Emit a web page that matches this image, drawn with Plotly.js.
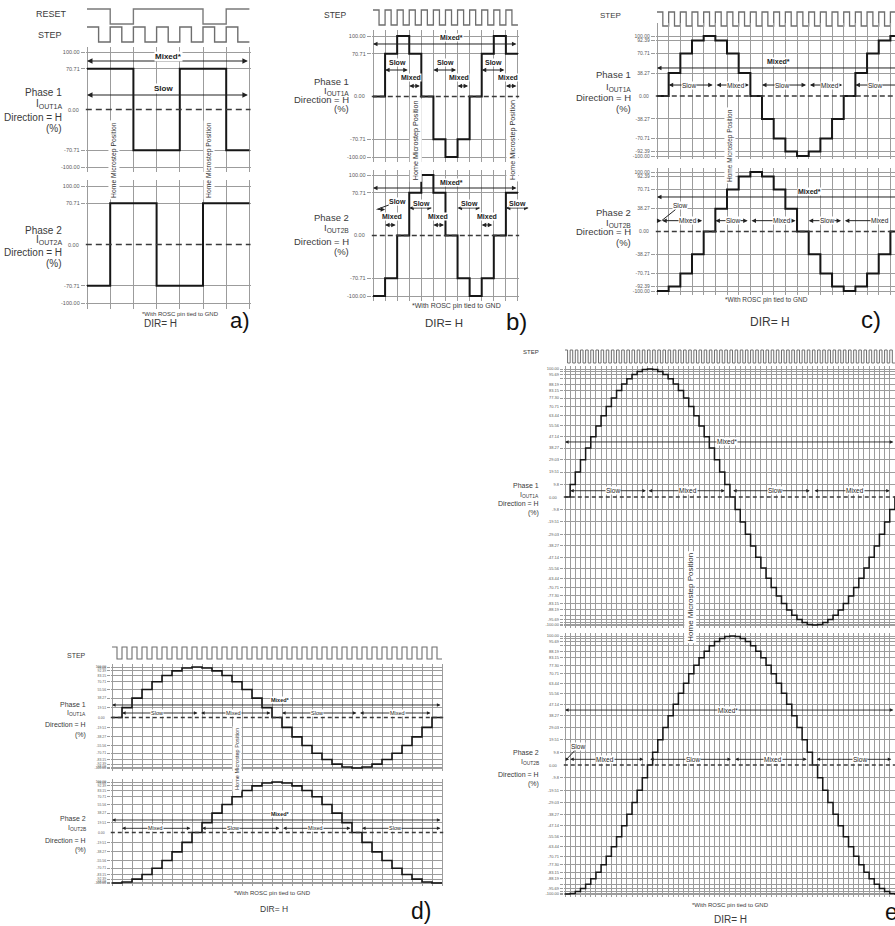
<!DOCTYPE html>
<html><head><meta charset="utf-8">
<script src="https://cdn.plot.ly/plotly-3.0.1.min.js"></script>
<style>html,body{margin:0;padding:0;background:#fff;overflow:hidden}#chart{width:895px;height:926px}</style>
</head><body><div id="chart"></div>
<script>
// ================= DATA =================
// a) full step
const stepA   = [1,0,1,0,1,0,1,0,1,0,1,0,1,0];
const resetA  = [1,0,1,1,1,0,1];
const phase1A = [70.71,70.71,-70.71,-70.71,70.71,70.71,-70.71];
const phase2A = [-70.71,70.71,70.71,-70.71,-70.71,70.71,70.71];
const ticksAB    = [100,70.71,0,-70.71,-100];
const tickTextAB = ['100.00','70.71','0.00','-70.71','-100.00'];

// b) half step
const stepB = [1,0,1,0,1,0,1,0, 1,0,1,0,1,0,1,0, 1,0,1,0,1,0,1,0];
const phase1B = [0,70.71,100,70.71,0,-70.71,-100,-70.71,0,70.71,100,70.71];
const phase2B = [-100,-70.71,0,70.71,100,70.71,0,-70.71,-100,-70.71,0,70.71];

// c) quarter step
const stepC = [1,0,1,0,1,0,1,0, 1,0,1,0,1,0,1,0, 1,0,1,0,1,0,1,0, 1,0,1,0,1,0,1,0, 1,0,1,0,1,0,1,0, 1,0];
const phase1C = [0,38.27,70.71,92.39,100,92.39,70.71,38.27,0,-38.27,-70.71,-92.39,-100,-92.39,-70.71,-38.27,0,38.27,70.71,92.39,100];
const phase2C = [-100,-92.39,-70.71,-38.27,0,38.27,70.71,92.39,100,92.39,70.71,38.27,0,-38.27,-70.71,-92.39,-100,-92.39,-70.71,-38.27,0];
const ticksC    = [100,92.39,70.71,38.27,0,-38.27,-70.71,-92.39,-100];
const tickTextC = ['100.00','92.39','70.71','38.27','0.00','-38.27','-70.71','-92.39','-100.00'];

// d) 1/8 step
const stepD = [1,0,1,0,1,0,1,0, 1,0,1,0,1,0,1,0, 1,0,1,0,1,0,1,0, 1,0,1,0,1,0,1,0,
               1,0,1,0,1,0,1,0, 1,0,1,0,1,0,1,0, 1,0,1,0,1,0,1,0, 1,0,1,0,1,0,1,0, 1,0];
const phase1D = [0,19.51,38.27,55.56,70.71,83.15,92.39,98.08,100,98.08,92.39,83.15,70.71,55.56,38.27,19.51,
                 0,-19.51,-38.27,-55.56,-70.71,-83.15,-92.39,-98.08,-100,-98.08,-92.39,-83.15,-70.71,-55.56,-38.27,-19.51,0];
const phase2D = [-100,-98.08,-92.39,-83.15,-70.71,-55.56,-38.27,-19.51,0,19.51,38.27,55.56,70.71,83.15,92.39,98.08,
                 100,98.08,92.39,83.15,70.71,55.56,38.27,19.51,0,-19.51,-38.27,-55.56,-70.71,-83.15,-92.39,-98.08,-100];
const ticksD    = [100,98.08,92.39,83.15,70.71,55.56,38.27,19.51,0,-19.51,-38.27,-55.56,-70.71,-83.15,-92.39,-98.08,-100];
const tickTextD = ['100.00','98.08','92.39','83.15','70.71','55.56','38.27','19.51','0.00','-19.51','-38.27','-55.56','-70.71','-83.15','-92.39','-98.08','-100.00'];

// e) 1/16 step
const stepE = [1,0,1,0,1,0,1,0, 1,0,1,0,1,0,1,0, 1,0,1,0,1,0,1,0, 1,0,1,0,1,0,1,0,
               1,0,1,0,1,0,1,0, 1,0,1,0,1,0,1,0, 1,0,1,0,1,0,1,0, 1,0,1,0,1,0,1,0,
               1,0,1,0,1,0,1,0, 1,0,1,0,1,0,1,0, 1,0,1,0,1,0,1,0, 1,0,1,0,1,0,1,0,
               1,0,1,0,1,0,1,0, 1,0,1,0,1,0,1,0, 1,0,1,0,1,0,1,0, 1,0,1,0,1,0,1,0];
const phase1E = [0,9.8,19.51,29.03,38.27,47.14,55.56,63.44,70.71,77.3,83.15,88.19,92.39,95.69,98.08,99.52,
                 100,99.52,98.08,95.69,92.39,88.19,83.15,77.3,70.71,63.44,55.56,47.14,38.27,29.03,19.51,9.8,
                 0,-9.8,-19.51,-29.03,-38.27,-47.14,-55.56,-63.44,-70.71,-77.3,-83.15,-88.19,-92.39,-95.69,-98.08,-99.52,
                 -100,-99.52,-98.08,-95.69,-92.39,-88.19,-83.15,-77.3,-70.71,-63.44,-55.56,-47.14,-38.27,-29.03,-19.51,-9.8,0];
const phase2E = [-100,-99.52,-98.08,-95.69,-92.39,-88.19,-83.15,-77.3,-70.71,-63.44,-55.56,-47.14,-38.27,-29.03,-19.51,-9.8,
                 0,9.8,19.51,29.03,38.27,47.14,55.56,63.44,70.71,77.3,83.15,88.19,92.39,95.69,98.08,99.52,
                 100,99.52,98.08,95.69,92.39,88.19,83.15,77.3,70.71,63.44,55.56,47.14,38.27,29.03,19.51,9.8,
                 0,-9.8,-19.51,-29.03,-38.27,-47.14,-55.56,-63.44,-70.71,-77.3,-83.15,-88.19,-92.39,-95.69,-98.08,-99.52,-100];
const ticksE    = [100,99.52,98.08,95.69,92.39,88.19,83.15,77.3,70.71,63.44,55.56,47.14,38.27,29.03,19.51,9.8,0,
                   -9.8,-19.51,-29.03,-38.27,-47.14,-55.56,-63.44,-70.71,-77.3,-83.15,-88.19,-92.39,-95.69,-98.08,-99.52,-100];
const tickTextE = ['100.00','','','95.69','','88.19','83.15','77.30','70.71','63.44','55.56','47.14','38.27','29.03','19.51','9.8','0.00',
                   '-9.8','-19.51','-29.03','-38.27','-47.14','-55.56','-63.44','-70.71','-77.30','-83.15','-88.19','','-95.69','','','-100.00'];

// texts
const labelsP1  = ['Phase 1','I<sub>OUT1A</sub>','Direction = H','(%)'];
const labelsP2A = ['Phase 2','I<sub>OUT2A</sub>','Direction = H','(%)'];
const labelsP2  = ['Phase 2','I<sub>OUT2B</sub>','Direction = H','(%)'];
const homeText = 'Home Microstep Position';
const footText = '*With ROSC pin tied to GND';
const dirText  = 'DIR= H';

// ================= GEOMETRY / STYLE =================
const FONT = 'Arial, "Liberation Sans", Helvetica, sans-serif';
const GRID = '#9c9c9c';
const W = 895, H = 926;
const geoA = {x0:87, cw:23.2, xMax:7.05, stepLow:42, stepHigh:27, stepTop:3, stepBot:46, stepW:1.4, lw:2, zw:1.6, dash:'6px,4px', ticklen:4, tickSize:5.5, aw:1.1, as:1,
  p1:{p100:52,m100:167,padT:5,padB:5}, p2:{p100:186,m100:303,padT:6,padB:6}};
const geoB = {x0:373, cw:12.08, xMax:12.1, stepLow:25, stepHigh:10, stepTop:6, stepBot:29, stepW:1.3, lw:2, zw:1.5, dash:'5px,3px', ticklen:4, tickSize:5.5, aw:1, as:0.9,
  p1:{p100:36,m100:157,padT:6,padB:5}, p2:{p100:175,m100:296,padT:5,padB:5}};
const geoC = {x0:657, cw:11.67, xMax:20.39, stepLow:26, stepHigh:12, stepTop:8, stepBot:30, stepW:1.3, lw:2, zw:1.5, dash:'5px,3px', ticklen:4, tickSize:5, aw:1, as:0.9,
  p1:{p100:36,m100:156,padT:13,padB:3}, p2:{p100:172,m100:291,padT:4,padB:4}};
const geoD = {x0:112, cw:10, xMax:33.12, stepLow:659, stepHigh:647, stepTop:644, stepBot:662, stepW:1.1, lw:1.6, zw:1.3, dash:'4px,3px', ticklen:3, tickSize:3.4, aw:0.9, as:0.8,
  p1:{p100:667,m100:768,padT:3,padB:3}, p2:{p100:782,m100:883,padT:3,padB:3}};
const geoE = {x0:565, cw:5.155, xMax:64.02, stepLow:363, stepHigh:350, stepTop:347, stepBot:366, stepW:1, lw:1.5, zw:1.3, dash:'4px,3px', ticklen:3, tickSize:4, aw:0.9, as:0.8,
  p1:{p100:369,m100:625,padT:3,padB:3}, p2:{p100:636,m100:894,padT:3,padB:3}};

// ================= BUILD =================
const traces = [], annotations = [], shapes = [];
const layout = {width:W, height:H, margin:{l:0,r:0,t:0,b:0,pad:0}, paper_bgcolor:'#ffffff', plot_bgcolor:'rgba(0,0,0,0)',
  showlegend:false, hovermode:false, font:{family:FONT,color:'#333'}, annotations, shapes};
let nX = 0, nY = 0;
function axKey(ref){ return (ref[0]==='x'?'xaxis':'yaxis') + ref.slice(1); }
function addAx(letter, obj){ const n = letter==='x' ? ++nX : ++nY; const ref = letter + (n===1?'':n); layout[axKey(ref)] = obj; return ref; }
const px = v => v/W, py = v => 1 - v/H;

function stair(vals, step){
  const x = [], y = [];
  vals.forEach((v,i)=>{ x.push(i*step); y.push(v); });
  x.push(vals.length*step); y.push(vals[vals.length-1]);
  return {x, y};
}
function phaseAxis(p, G, D, xRef){
  const ppu = (p.m100 - p.p100)/200;
  const tv = [], tt = [];
  D.ticks.forEach((v,i)=>{ if (v !== 0){ tv.push(v); tt.push(D.tickText[i]); } });
  return {domain:[py(p.m100+p.padB), py(p.p100-p.padT)], range:[-100-p.padB/ppu, 100+p.padT/ppu],
    tickmode:'array', tickvals:tv, ticktext:tt, showgrid:true, gridcolor:GRID, gridwidth:1,
    zeroline:false, showline:false, ticks:'outside', ticklen:G.ticklen, tickwidth:1, tickcolor:GRID,
    tickfont:{size:G.tickSize, color:'#5a5a5a', family:FONT}, anchor:xRef, side:'left', fixedrange:true};
}
function buildPanel(G, D){
  const pad = 1.2/G.cw;
  const xr = [-pad, G.xMax];
  const xdom = [px(G.x0 - pad*G.cw), px(G.x0 + G.xMax*G.cw)];
  const u = G.stepLow - G.stepHigh;
  const xs = addAx('x', {domain:xdom, range:xr, visible:false, fixedrange:true});
  const ys = addAx('y', {domain:[py(G.stepBot), py(G.stepTop)], range:[(G.stepLow-G.stepBot)/u, (G.stepLow-G.stepTop)/u], visible:false, fixedrange:true, anchor:xs});
  layout[axKey(xs)].anchor = ys;
  const xp = addAx('x', {domain:xdom, range:xr, showgrid:true, gridcolor:GRID, gridwidth:1, tickmode:'linear', tick0:0, dtick:1,
    ticks:'', showticklabels:false, zeroline:false, showline:false, fixedrange:true});
  const y1 = addAx('y', phaseAxis(G.p1, G, D, xp));
  const y2 = addAx('y', phaseAxis(G.p2, G, D, xp));
  layout[axKey(xp)].anchor = y1;
  const s = stair(D.step, 0.5);
  traces.push({type:'scatter', mode:'lines', x:s.x, y:s.y, xaxis:xs, yaxis:ys, line:{shape:'hv', color:'#6e6e6e', width:G.stepW}, hoverinfo:'skip'});
  if (D.reset){
    const r = stair(D.reset, 1);
    traces.push({type:'scatter', mode:'lines', x:r.x, y:r.y.map(v=>v+1.2), xaxis:xs, yaxis:ys, line:{shape:'hv', color:'#7a7a7a', width:G.stepW}, hoverinfo:'skip'});
  }
  // dashed zero reference and its "0.00" label
  const zi = D.ticks.indexOf(0);
  [y1, y2].forEach(yr=>{
    shapes.push({type:'line', xref:xp+' domain', x0:0, x1:1, yref:yr, y0:0, y1:0, line:{color:'#3a3a3a', width:G.zw, dash:G.dash}});
    annotations.push({xref:'paper', yref:yr, x:px(G.x0 - pad*G.cw - G.ticklen - 2), y:0, text:D.tickText[zi], showarrow:false,
      xanchor:'right', yanchor:'middle', font:{size:G.tickSize, color:'#5a5a5a', family:FONT}, borderpad:0});
  });
  [[D.phase1, y1], [D.phase2, y2]].forEach(([vals, yr])=>{
    const st = stair(vals, 1);
    traces.push({type:'scatter', mode:'lines', x:st.x, y:st.y, xaxis:xp, yaxis:yr, line:{shape:'hv', color:'#161616', width:G.lw}, hoverinfo:'skip'});
  });
  return {xs, ys, xp, y1, y2};
}
function arrow(xr, yr, x0, x1, y, G, heads){
  const a = {xref:xr, yref:yr, axref:xr, ayref:yr, y:y, ay:y, text:'', showarrow:true, arrowcolor:'#222',
    arrowwidth:G.aw, arrowhead:2, arrowsize:G.as, standoff:0, startstandoff:0};
  if (heads==='right'){ a.x=x1; a.ax=x0; a.arrowside='end'; }
  else if (heads==='left'){ a.x=x0; a.ax=x1; a.arrowside='end'; }
  else { a.x=x0; a.ax=x1; a.arrowside='end+start'; }
  annotations.push(a);
}
function label(xr, yr, x, y, text, size, o){
  o = o || {};
  annotations.push({xref:xr, yref:yr, x, y, text:o.bold?'<b>'+text+'</b>':text, showarrow:false,
    font:{size, color:'#222', family:FONT}, bgcolor:o.bg===false?'rgba(0,0,0,0)':'#ffffff', borderpad:0, xanchor:'center', yanchor:'middle'});
}
function hook(xr, yr, tx, ty, hx, hy, text, size){
  annotations.push({xref:xr, yref:yr, axref:xr, ayref:yr, x:hx, y:hy, ax:tx, ay:ty, text, showarrow:true, arrowhead:0,
    arrowwidth:1, arrowcolor:'#222', standoff:0, font:{size, color:'#222', family:FONT}, bgcolor:'#ffffff', borderpad:0});
}
function ptext(x, y, text, size, o){
  annotations.push(Object.assign({xref:'paper', yref:'paper', x:px(x), y:py(y), text, showarrow:false,
    font:{size, color:'#3a3a3a', family:FONT}, xanchor:'center', yanchor:'middle', borderpad:0}, o||{}));
}
function vtext(xr, x, yc, text, size){
  annotations.push({xref:xr, yref:'paper', x, y:py(yc), text, textangle:-90, showarrow:false,
    font:{size, color:'#333', family:FONT}, bgcolor:'#ffffff', borderpad:1, xanchor:'center', yanchor:'middle'});
}
function side(right, ys, texts, size){ texts.forEach((t,i)=>ptext(right, ys[i], t, size, {xanchor:'right'})); }

// ---------- panel a ----------
const A = buildPanel(geoA, {step:stepA, reset:resetA, phase1:phase1A, phase2:phase2A, ticks:ticksAB, tickText:tickTextAB});
arrow(A.xp, A.y1, 0, 7, 84.3, geoA);   label(A.xp, A.y1, 3.5, 93, 'Mixed*', 8, {bold:true});
arrow(A.xp, A.y1, 0, 7, 25.2, geoA);   label(A.xp, A.y1, 3.3, 35.7, 'Slow', 8, {bold:true});
vtext(A.xp, 1.16, 160, homeText, 6.8); vtext(A.xp, 5.26, 160, homeText, 6.8);
ptext(68, 14, 'RESET', 9, {xanchor:'right'}); ptext(63, 35, 'STEP', 9, {xanchor:'right'});
side(63, [93,104,117,128], labelsP1, 10); side(63, [230,240,252,263], labelsP2A, 10);
ptext(180, 314, footText, 6); ptext(160, 323, dirText, 10); ptext(240, 320, 'a)', 22, {font:{size:22,color:'#111',family:FONT}});

// ---------- panel b ----------
const B = buildPanel(geoB, {step:stepB, phase1:phase1B, phase2:phase2B, ticks:ticksAB, tickText:tickTextAB});
arrow(B.xp, B.y1, 0, 12, 86.8, geoB); label(B.xp, B.y1, 6.5, 96.7, 'Mixed*', 7, {bold:true});
[[1,3,2],[5,7,6],[9,11,10]].forEach(s=>{ arrow(B.xp,B.y1,s[0],s[1],43.8,geoB); label(B.xp,B.y1,s[2],55.4,'Slow',7,{bold:true}); });
[[3,4,3.15],[7,8,7.1],[11,12,11.2]].forEach(s=>{ arrow(B.xp,B.y1,s[0],s[1],17.4,geoB); label(B.xp,B.y1,s[2],32.2,'Mixed',7,{bold:true}); });
arrow(B.xp, B.y2, 0, 12, 78.5, geoB); label(B.xp, B.y2, 6.5, 86.8, 'Mixed*', 7, {bold:true});
[[3,5,4],[7,9,8],[11,13,12]].forEach(s=>{ arrow(B.xp,B.y2,s[0],s[1],45.5,geoB); label(B.xp,B.y2,s[2],53.7,'Slow',7,{bold:true}); });
[[1,2,1.55],[5,6,5.4],[9,10,9.4]].forEach(s=>{ arrow(B.xp,B.y2,s[0],s[1],17.4,geoB); label(B.xp,B.y2,s[2],30.6,'Mixed',7,{bold:true}); });
hook(B.xp, B.y2, 2.05, 55.9, 0.3, 43, '<b>Slow</b>', 7); arrow(B.xp, B.y2, 0.3, 1.0, 43, geoB, 'right');
vtext(B.xp, 3.5, 140, homeText, 7.2); vtext(B.xp, 11.5, 140, homeText, 7.2);
ptext(348, 15, 'STEP', 8.5, {xanchor:'right'});
side(350, [82,91,100,108], labelsP1, 9.5); side(350, [218,228,242,251], labelsP2, 9.5);
ptext(457, 306, footText, 7); ptext(444, 323, dirText, 11.5); ptext(516, 322, 'b)', 24, {font:{size:24,color:'#111',family:FONT}});

// ---------- panel c ----------
const C = buildPanel(geoC, {step:stepC, phase1:phase1C, phase2:phase2C, ticks:ticksC, tickText:tickTextC});
arrow(C.xp, C.y1, 0, 22.5, 46.7, geoC, 'left'); label(C.xp, C.y1, 10.4, 56.7, 'Mixed*', 7, {bold:true});
[[1,4.9,2.7,'Slow'],[5.1,8,6.8,'Mixed'],[9,12.9,10.7,'Slow'],[13.1,16,14.8,'Mixed']].forEach(s=>{ arrow(C.xp,C.y1,s[0],s[1],18.3,geoC); label(C.xp,C.y1,s[2],18.3,s[3],6.5); });
arrow(C.xp, C.y1, 17, 22.5, 18.3, geoC, 'left'); label(C.xp, C.y1, 18.7, 18.3, 'Slow', 6.5);
arrow(C.xp, C.y2, 0, 22.5, 58, geoC, 'left'); label(C.xp, C.y2, 13.1, 66.9, 'Mixed*', 7, {bold:true});
hook(C.xp, C.y2, 2.0, 43.4, 0.4, 18.2, 'Slow', 6.5); arrow(C.xp, C.y2, 0, 0.38, 18.2, geoC, 'right');
[[0.45,4,2.65,'Mixed'],[5,7.9,6.5,'Slow'],[8.1,12,10.7,'Mixed'],[13,15.9,14.6,'Slow'],[16.1,20,19.1,'Mixed']].forEach(s=>{ arrow(C.xp,C.y2,s[0],s[1],18.2,geoC); label(C.xp,C.y2,s[2],18.2,s[3],6.5); });
vtext(C.xp, 6.25, 145, homeText, 6.5);
ptext(622, 15, 'STEP', 8, {xanchor:'right'});
side(632, [75,87,97,108], labelsP1, 9.5); side(632, [213,223,232,243], labelsP2, 9.5);
ptext(766, 300, footText, 6.5); ptext(770, 322, dirText, 12); ptext(871, 319, 'c)', 24, {font:{size:24,color:'#111',family:FONT}});

// ---------- panel d ----------
const Dp = buildPanel(geoD, {step:stepD, phase1:phase1D, phase2:phase2D, ticks:ticksD, tickText:tickTextD});
arrow(Dp.xp, Dp.y1, 0, 33, 24.8, geoD); label(Dp.xp, Dp.y1, 16.8, 34.7, 'Mixed*', 5.5, {bold:true});
[[1,8.7,4.5,'Slow'],[8.9,16,12.1,'Mixed'],[17,24.6,20.5,'Slow'],[24.8,32,28.5,'Mixed']].forEach(s=>{ arrow(Dp.xp,Dp.y1,s[0],s[1],8.9,geoD); label(Dp.xp,Dp.y1,s[2],8.9,s[3],5.5); });
arrow(Dp.xp, Dp.y2, 0, 33, 24.8, geoD); label(Dp.xp, Dp.y2, 16.8, 36.6, 'Mixed*', 5.5, {bold:true});
[[1,8,4.3,'Mixed'],[9,16.9,12.1,'Slow'],[17.1,24,20.3,'Mixed'],[25,33,28.3,'Slow']].forEach(s=>{ arrow(Dp.xp,Dp.y2,s[0],s[1],8.3,geoD); label(Dp.xp,Dp.y2,s[2],8.3,s[3],5.5); });
vtext(Dp.xp, 12.5, 759, homeText, 5.6);
ptext(87, 655, 'STEP', 7, {xanchor:'right'});
side(87, [704,713,724,735], labelsP1, 7); side(87, [818,828,840,850], labelsP2, 7);
ptext(272, 893, footText, 6); ptext(274, 909, dirText, 8.5); ptext(421, 911, 'd)', 23, {font:{size:23,color:'#111',family:FONT}});

// ---------- panel e ----------
const E = buildPanel(geoE, {step:stepE, phase1:phase1E, phase2:phase2E, ticks:ticksE, tickText:tickTextE});
arrow(E.xp, E.y1, 0, 64, 43, geoE); label(E.xp, E.y1, 31.4, 43, 'Mixed*', 6.5);
[[1,16,9.4,'Slow'],[16.2,31.3,23.9,'Mixed'],[32.6,47.8,40.7,'Slow'],[48.4,63.3,56.2,'Mixed']].forEach(s=>{ arrow(E.xp,E.y1,s[0],s[1],4.9,geoE); label(E.xp,E.y1,s[2],4.9,s[3],6.5); });
arrow(E.xp, E.y2, 0, 64, 42.6, geoE); label(E.xp, E.y2, 31.6, 42.6, 'Mixed*', 6.5);
hook(E.xp, E.y2, 2.6, 14.2, 0.3, 4.4, 'Slow', 6.5); arrow(E.xp, E.y2, 0, 0.8, 4.4, geoE, 'right');
[[1,15.5,7.8,'Mixed'],[16.5,32.5,24.9,'Slow'],[33,47.2,40.4,'Mixed'],[48.8,63.6,57.2,'Slow']].forEach(s=>{ arrow(E.xp,E.y2,s[0],s[1],4.4,geoE); label(E.xp,E.y2,s[2],4.4,s[3],6.5); });
vtext(E.xp, 24.2, 597, homeText, 8);
ptext(540, 352, 'STEP', 6, {xanchor:'right'});
side(540, [485,495,503,513], labelsP1, 7); side(540, [752,762,774,784], labelsP2, 7);
ptext(730, 905, footText, 6); ptext(730, 919, dirText, 10); ptext(884, 912, 'e)', 23, {xanchor:'left', font:{size:23,color:'#111',family:FONT}});

Plotly.newPlot('chart', traces, layout, {staticPlot:true, displayModeBar:false});
</script>
</body></html>
